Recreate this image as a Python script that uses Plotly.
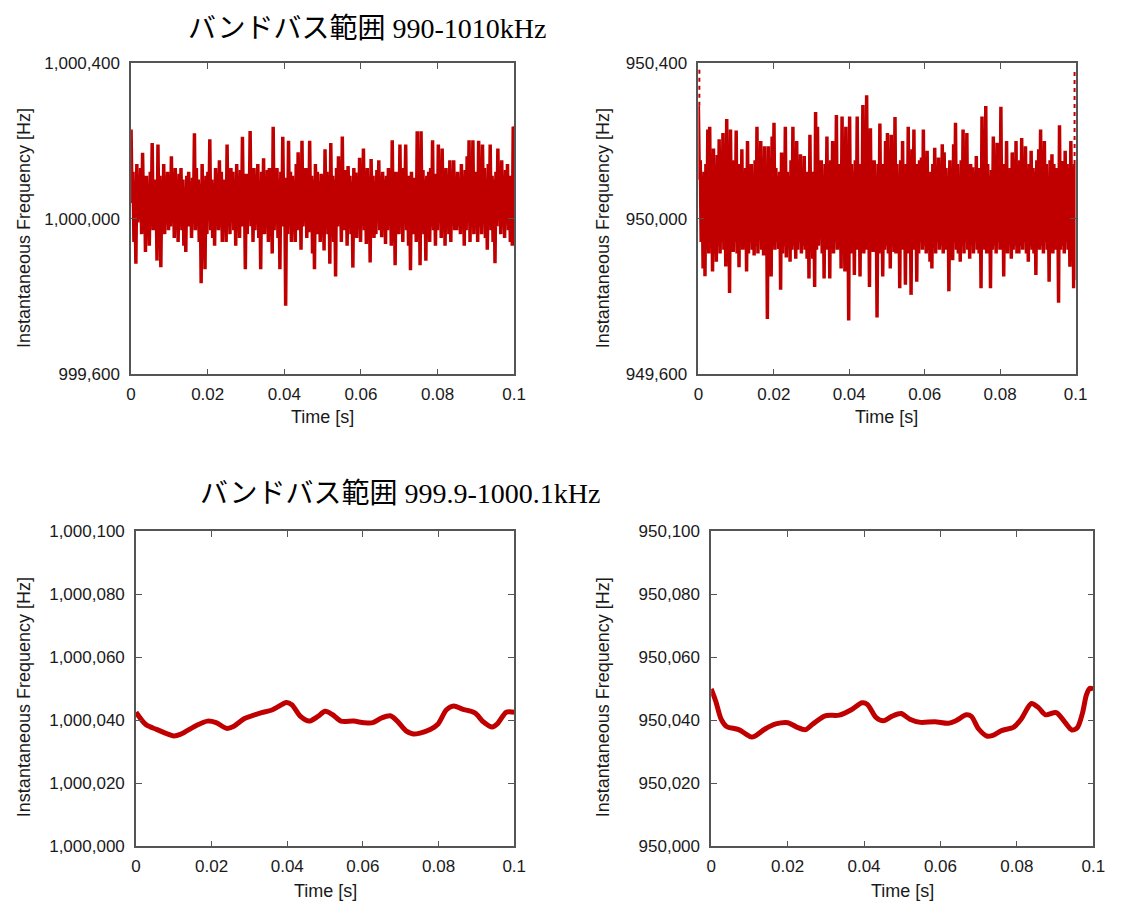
import numpy as np
import plotly.graph_objects as go

# ---------------- data ----------------
# Top-left (bandpass 990-1010 kHz): per time bin, upper and lower excursion
# of the instantaneous frequency, deviation from 1,000,000 Hz
base_tl = 1000000
hi_tl = [229, 120, 90, 140, 100, 130, 169, 95, 110, 80,
         120, 194, 100, 85, 190, 110, 90, 140, 105, 120,
         95, 160, 110, 130, 90, 115, 130, 100, 80, 110,
         120, 95, 105, 219, 130, 100, 90, 140, 95, 110,
         120, 204, 100, 90, 130, 110, 150, 120, 100, 95,
         190, 110, 130, 120, 90, 140, 105, 125, 210, 100,
         115, 95, 225, 110, 130, 100, 140, 90, 120, 155,
         100, 125, 130, 95, 236, 110, 130, 100, 120, 210,
         105, 95, 200, 120, 110, 90, 140, 170, 100, 200,
         115, 130, 95, 200, 110, 100, 140, 120, 95, 115,
         100, 178, 120, 95, 194, 110, 100, 130, 160, 105,
         211, 100, 125, 135, 110, 95, 130, 118, 100, 156,
         110, 180, 120, 130, 100, 153, 110, 95, 125, 150,
         95, 120, 100, 110, 130, 115, 201, 100, 120, 110,
         190, 100, 130, 190, 95, 110, 120, 105, 100, 224,
         110, 224, 125, 100, 110, 120, 130, 201, 115, 100,
         190, 120, 180, 100, 130, 110, 150, 120, 150, 105,
         120, 100, 140, 110, 125, 160, 201, 110, 201, 120,
         100, 200, 115, 190, 130, 95, 140, 190, 110, 100,
         120, 180, 110, 150, 95, 125, 140, 110, 100, 236]
lo_tl = [40, -60, -116, -10, 0, -40, 10, -86, -20, -70,
         0, -30, 5, -108, -20, -125, -10, -40, 10, -30,
         -20, 0, -50, 10, -60, -10, -30, -70, -86, 0,
         -20, -50, 10, -30, -10, -60, -166, -20, -130, -40,
         0, -30, -50, -70, 5, -30, -20, -60, 10, -60,
         -20, -40, 0, -30, -70, 10, -50, -20, -10, -130,
         -40, 5, -20, -60, -30, 0, -50, -130, -10, -40,
         -20, -60, 0, -90, -30, -10, -50, -130, -20, 0,
         -224, -40, -10, -60, 0, -60, -30, -10, -80, -20,
         0, -50, -35, -20, -90, -130, -10, -40, -60, -20,
         -82, 0, -40, -116, -10, -60, -149, -20, 0, -60,
         -30, -30, -70, 0, -40, -126, -10, -50, -20, -60,
         0, -30, -65, -20, -113, -10, -50, -40, 0, -30,
         -48, -10, -65, -30, 0, -70, -20, -120, -10, -40,
         -20, -60, 0, -30, -70, -133, -10, -40, -60, -20,
         -120, -10, -40, -108, 0, -60, -20, -30, -70, -30,
         -10, -50, -20, -70, 0, -40, -60, -10, -30, -30,
         -20, -40, 0, -70, -30, -10, -60, -20, -40, -10,
         -60, -20, -40, 0, -50, -80, -10, -30, -60, -115,
         -20, 0, -40, -20, -50, -10, -30, -60, -70, 230]

# Top-right: deviation from 950,000 Hz
base_tr = 950000
hi_tr = [290, 150, 110, 120, 140, 229, 236, 130, 180, 120,
         163, 204, 130, 220, 110, 256, 140, 229, 120, 150,
         226, 120, 140, 178, 110, 130, 199, 120, 140, 110,
         150, 236, 120, 199, 130, 186, 110, 186, 120, 211,
         246, 130, 110, 120, 170, 140, 236, 120, 110, 150,
         236, 120, 199, 130, 165, 110, 161, 120, 110, 215,
         120, 110, 274, 236, 130, 150, 110, 140, 211, 120,
         150, 199, 130, 266, 140, 110, 262, 120, 236, 110,
         262, 140, 120, 150, 262, 110, 140, 292, 130, 317,
         120, 232, 130, 150, 110, 140, 244, 120, 140, 199,
         220, 120, 215, 130, 261, 140, 110, 150, 199, 120,
         140, 236, 110, 178, 229, 120, 140, 150, 157, 229,
         130, 174, 110, 120, 140, 182, 120, 157, 140, 191,
         170, 130, 110, 150, 120, 191, 246, 140, 110, 150,
         229, 120, 220, 110, 140, 132, 120, 161, 130, 110,
         262, 130, 289, 140, 110, 125, 211, 120, 195, 140,
         287, 110, 140, 199, 120, 130, 170, 140, 199, 120,
         150, 207, 130, 186, 110, 140, 174, 130, 120, 150,
         178, 229, 130, 199, 140, 110, 150, 165, 140, 130,
         110, 240, 130, 148, 174, 140, 120, 199, 120, 140]
lo_tr = [100, -60, -128, -148, -70, -90, -60, -136, -80, -111,
         -70, -90, -60, -80, -123, -70, -191, -80, -86, -60,
         -90, -125, -70, -80, -69, -136, -90, -60, -80, -95,
         -70, -90, -53, -80, -95, -70, -258, -90, -149, -70,
         -80, -60, -78, -183, -90, -70, -100, -60, -111, -80,
         -70, -103, -80, -60, -90, -70, -80, -103, -154, -70,
         -103, -176, -80, -70, -38, -90, -154, -70, -80, -154,
         -70, -90, -60, -80, -38, -128, -80, -136, -70, -262,
         -90, -60, -145, -80, -70, -149, -60, -90, -80, -70,
         -176, -80, -86, -70, -254, -90, -60, -149, -80, -70,
         -90, -128, -70, -86, -90, -60, -179, -80, -70, -170,
         -80, -90, -196, -70, -80, -162, -90, -60, -80, -70,
         -90, -80, -111, -128, -70, -90, -60, -80, -70, -90,
         -80, -70, -187, -90, -107, -60, -80, -90, -111, -70,
         -90, -60, -80, -103, -70, -90, -60, -80, -90, -179,
         -70, -80, -90, -60, -179, -80, -70, -90, -60, -80,
         -70, -149, -80, -90, -60, -103, -80, -70, -90, -90,
         -70, -80, -60, -90, -111, -70, -80, -90, -145, -60,
         -80, -70, -90, -60, -80, -162, -70, -90, -80, -60,
         -216, -80, -70, -90, -60, -80, -124, -70, -179, -158]

# dotted edge artefacts of the top-right trace (Hz deviation)
edge_left_dev = [290, 385]
edge_right_dev = [140, 385]

# Bottom-left: bandpass 999.9-1000.1 kHz, deviation from 1,000,000 Hz
t_bl = [0.0, 0.0026, 0.0054, 0.0100, 0.0119, 0.0156, 0.0189, 0.0212, 0.0240, 0.0259,
        0.0287, 0.0324, 0.0361, 0.0398, 0.0412, 0.0435, 0.0458, 0.0481, 0.0500, 0.0519,
        0.0542, 0.0575, 0.0603, 0.0626, 0.0649, 0.0672, 0.0691, 0.0714, 0.0733, 0.0751,
        0.0779, 0.0798, 0.0821, 0.0840, 0.0863, 0.0896, 0.0919, 0.0942, 0.0956, 0.0979, 0.1]
dev_bl = [42.5, 38.6, 37.1, 35.0, 35.6, 38.1, 39.7, 39.2, 37.4, 38.1,
          40.5, 42.1, 43.3, 45.6, 44.9, 41.2, 39.7, 41.2, 42.8, 41.8,
          39.7, 39.7, 39.2, 39.2, 40.7, 41.4, 39.7, 36.6, 35.6, 35.9,
          37.1, 38.7, 43.3, 44.5, 43.5, 42.3, 39.4, 37.8, 38.9, 42.5, 42.5]

# Bottom-right: deviation from 950,000 Hz
t_br = [0.0, 0.0012, 0.0026, 0.0040, 0.0072, 0.0104, 0.0114, 0.0141, 0.0169, 0.0201,
        0.0224, 0.0247, 0.0266, 0.0298, 0.0335, 0.0368, 0.0395, 0.0409, 0.0432, 0.0451,
        0.0474, 0.0497, 0.0520, 0.0548, 0.0585, 0.0621, 0.0640, 0.0668, 0.0681, 0.0700,
        0.0723, 0.0737, 0.0760, 0.0792, 0.0811, 0.0838, 0.0857, 0.0875, 0.0903, 0.0926,
        0.0944, 0.0958, 0.0972, 0.0982, 0.0991, 0.1]
dev_br = [49.9, 46.0, 40.3, 38.0, 37.0, 34.7, 34.9, 37.2, 38.8, 39.2,
          37.8, 37.0, 38.8, 41.4, 41.6, 43.4, 45.5, 45.0, 40.8, 39.8,
          41.3, 42.1, 40.3, 39.3, 39.5, 39.0, 39.8, 41.7, 41.2, 37.2,
          34.9, 35.2, 36.7, 37.8, 40.3, 45.3, 43.9, 41.7, 42.4, 39.3,
          36.9, 37.6, 42.4, 48.0, 50.1, 49.9]

title_top = "バンドバス範囲 990-1010kHz"
title_bottom = "バンドバス範囲 999.9-1000.1kHz"
x_title = "Time [s]"
y_title = "Instantaneous Frequency [Hz]"

# ---------------- figure ----------------
W, H = 1125, 918
RED = "#C00000"
AX = "#555555"
TXT = "#1a1a1a"
SANS = "Liberation Sans, Arial, sans-serif"
SERIF = "Liberation Serif, Noto Sans CJK JP, serif"


def fx(px):
    return px / W


def fy(py):
    return 1 - py / H


def interleave(hi, lo):
    out = []
    for a, b in zip(hi, lo):
        out.extend([a, b])
    return out


y_tl = [base_tl + v for v in interleave(hi_tl, lo_tl)]
y_tr = [base_tr + v for v in interleave(hi_tr, lo_tr)]
t_tl = np.linspace(0, 0.1, len(y_tl))
t_tr = np.linspace(0, 0.1, len(y_tr))

fig = go.Figure()
fig.add_trace(go.Scatter(x=t_tl, y=y_tl, mode="lines",
                         line=dict(color=RED, width=3.5), xaxis="x", yaxis="y"))
fig.add_trace(go.Scatter(x=t_tr, y=y_tr, mode="lines",
                         line=dict(color=RED, width=3.5), xaxis="x2", yaxis="y2"))
fig.add_trace(go.Scatter(x=[0, 0], y=[base_tr + v for v in edge_left_dev], mode="lines",
                         line=dict(color=RED, width=4, dash="dot"), xaxis="x2", yaxis="y2"))
fig.add_trace(go.Scatter(x=[0.1, 0.1], y=[base_tr + v for v in edge_right_dev], mode="lines",
                         line=dict(color=RED, width=4, dash="dot"), xaxis="x2", yaxis="y2"))
fig.add_trace(go.Scatter(x=t_bl, y=[base_tl + v for v in dev_bl], mode="lines",
                         line=dict(color=RED, width=5, shape="spline", smoothing=0.8),
                         xaxis="x3", yaxis="y3"))
fig.add_trace(go.Scatter(x=t_br, y=[base_tr + v for v in dev_br], mode="lines",
                         line=dict(color=RED, width=5, shape="spline", smoothing=0.8),
                         xaxis="x4", yaxis="y4"))


def xax(dom, anchor):
    return dict(domain=dom, anchor=anchor, range=[0, 0.1],
                tickvals=[0, 0.02, 0.04, 0.06, 0.08, 0.1],
                ticktext=["0", "0.02", "0.04", "0.06", "0.08", "0.1"],
                showline=True, linecolor=AX, linewidth=1.5, mirror="allticks",
                ticks="inside", ticklen=6, tickcolor=AX, tickwidth=1.2,
                showgrid=False, zeroline=False, ticklabelstandoff=4,
                tickfont=dict(family=SANS, size=17, color=TXT))


def yax(dom, anchor, rng, vals):
    return dict(domain=dom, anchor=anchor, range=rng, tickvals=vals,
                ticktext=[f"{v:,}" for v in vals],
                showline=True, linecolor=AX, linewidth=1.5, mirror="allticks",
                ticks="inside", ticklen=6, tickcolor=AX, tickwidth=1.2,
                showgrid=False, zeroline=False, ticklabelstandoff=6,
                tickfont=dict(family=SANS, size=17, color=TXT))


top_dom = [fy(373), fy(55)]
bot_dom = [fy(855), fy(533)]

fig.update_layout(
    width=W, height=H, paper_bgcolor="white", plot_bgcolor="white",
    margin=dict(l=0, r=0, t=0, b=0), showlegend=False,
    xaxis=xax([fx(128), fx(517)], "y"),
    yaxis=yax(top_dom, "x", [999600, 1000400], [999600, 1000000, 1000400]),
    xaxis2=xax([fx(704), fx(1087)], "y2"),
    yaxis2=yax(top_dom, "x2", [949600, 950400], [949600, 950000, 950400]),
    xaxis3=xax([fx(133), fx(517)], "y3"),
    yaxis3=yax(bot_dom, "x3", [1000000, 1000100],
               [1000000, 1000020, 1000040, 1000060, 1000080, 1000100]),
    xaxis4=xax([fx(717), fx(1105)], "y4"),
    yaxis4=yax(bot_dom, "x4", [950000, 950100],
               [950000, 950020, 950040, 950060, 950080, 950100]),
)

ann = []
ann.append(dict(text=title_top, x=fx(368), y=fy(20),
                font=dict(family=SERIF, size=28, color="black")))
ann.append(dict(text=title_bottom, x=fx(401), y=fy(495),
                font=dict(family=SERIF, size=28, color="black")))
for cx, cy in [(322, 417), (895, 417), (325, 901), (911, 901)]:
    ann.append(dict(text=x_title, x=fx(cx), y=fy(cy),
                    font=dict(family=SANS, size=18, color=TXT)))
for cx, cy in [(20, 224), (608, 224), (20, 703), (608, 703)]:
    ann.append(dict(text=y_title, x=fx(cx), y=fy(cy), textangle=-90,
                    font=dict(family=SANS, size=18, color=TXT)))
for a in ann:
    a.update(xref="paper", yref="paper", showarrow=False, xanchor="center", yanchor="middle")
fig.update_layout(annotations=ann)

post = (
    "document.documentElement.style.margin='0';"
    "document.body.style.margin='0';"
    "document.body.style.overflow='hidden';"
)
fig.write_html("out.html", config={"displayModeBar": False}, post_script=post)
